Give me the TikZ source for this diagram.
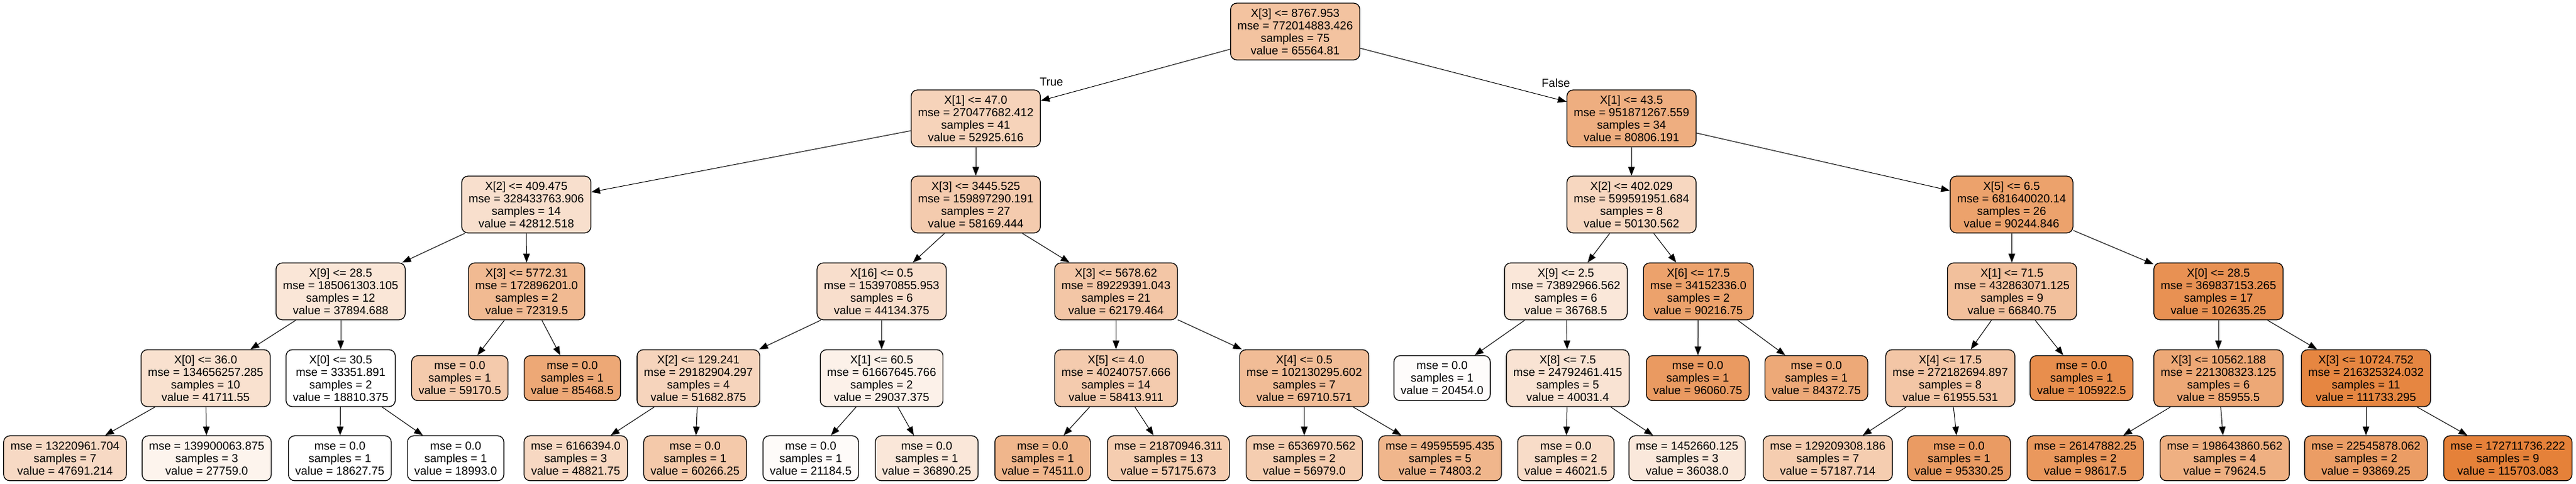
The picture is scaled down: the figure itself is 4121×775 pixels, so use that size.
\documentclass[tikz,border=0pt]{standalone}
\usepackage{fontspec}
\setmainfont{Liberation Sans}
\usetikzlibrary{arrows.meta}
\definecolor{skorange}{RGB}{229,129,57}

\begin{document}
\begin{tikzpicture}[x=1pt, y=-1pt,
		split/.style={draw, line width=1.3pt, rounded corners=10pt, fill=skorange!#1!white,
			align=center, inner xsep=11pt, inner ysep=3pt, minimum height=91pt,
			font=\fontsize{18.5pt}{20pt}\selectfont},
		leaf/.style={split=#1, minimum height=72pt},
		edge/.style={line width=1pt, -{Triangle[length=14pt,width=10.5pt]}},
		lbl/.style={font=\fontsize{18.5pt}{20pt}\selectfont}]
			\useasboundingbox (0,0) rectangle (4121,775);
			
			% depth 0 and 1
			\node[split=48] (root) at (2072,50.5){X[3] <= 8767.953\\mse = 772014883.426\\samples = 75\\value = 65564.81};
			\node[split=35] (l) at (1561,189.5){X[1] <= 47.0\\mse = 270477682.412\\samples = 41\\value = 52925.616};
			\node[split=64] (r) at (2610,189.5){X[1] <= 43.5\\mse = 951871267.559\\samples = 34\\value = 80806.191};
			\node[lbl] (T) at (1682,131){True};
			\node[lbl] (F) at (2489,133){False};
			
			% depth 2
			\node[split=25] (ll) at (842,327.5){X[2] <= 409.475\\mse = 328433763.906\\samples = 14\\value = 42812.518};
			\node[split=41] (lr) at (1561,327.5){X[3] <= 3445.525\\mse = 159897290.191\\samples = 27\\value = 58169.444};
			\node[split=32] (rl) at (2610,327.5){X[2] <= 402.029\\mse = 599591951.684\\samples = 8\\value = 50130.562};
			\node[split=74] (rr) at (3218,327.5){X[5] <= 6.5\\mse = 681640020.14\\samples = 26\\value = 90244.846};
			
			% depth 3
			\node[split=20] (lll) at (545,466.5){X[9] <= 28.5\\mse = 185061303.105\\samples = 12\\value = 37894.688};
			\node[split=55] (llr) at (842.5,466.5){X[3] <= 5772.31\\mse = 172896201.0\\samples = 2\\value = 72319.5};
			\node[split=26] (lrl) at (1410.4,466.5){X[16] <= 0.5\\mse = 153970855.953\\samples = 6\\value = 44134.375};
			\node[split=45] (lrr) at (1785.4,466.5){X[3] <= 5678.62\\mse = 89229391.043\\samples = 21\\value = 62179.464};
			\node[split=19] (rll) at (2505,466.5){X[9] <= 2.5\\mse = 73892966.562\\samples = 6\\value = 36768.5};
			\node[split=74] (rlr) at (2717,466.5){X[6] <= 17.5\\mse = 34152336.0\\samples = 2\\value = 90216.75};
			\node[split=50] (rrl) at (3218.7,466.5){X[1] <= 71.5\\mse = 432863071.125\\samples = 9\\value = 66840.75};
			\node[split=87] (rrr) at (3549,466.5){X[0] <= 28.5\\mse = 369837153.265\\samples = 17\\value = 102635.25};
			
			% depth 4
			\node[split=24] (llll) at (329,605.5){X[0] <= 36.0\\mse = 134656257.285\\samples = 10\\value = 41711.55};
			\node[split=0] (lllr) at (545,605.5){X[0] <= 30.5\\mse = 33351.891\\samples = 2\\value = 18810.375};
			\node[leaf=42] (llrl) at (735.6,605.5){mse = 0.0\\samples = 1\\value = 59170.5};
			\node[leaf=69] (llrr) at (915.5,605.5){mse = 0.0\\samples = 1\\value = 85468.5};
			\node[split=34] (lrll) at (1117.3,605.5){X[2] <= 129.241\\mse = 29182904.297\\samples = 4\\value = 51682.875};
			\node[split=11] (lrlr) at (1410.4,605.5){X[1] <= 60.5\\mse = 61667645.766\\samples = 2\\value = 29037.375};
			\node[split=41] (lrrl) at (1785.4,605.5){X[5] <= 4.0\\mse = 40240757.666\\samples = 14\\value = 58413.911};
			\node[split=53] (lrrr) at (2086.5,605.5){X[4] <= 0.5\\mse = 102130295.602\\samples = 7\\value = 69710.571};
			\node[leaf=2] (rlll) at (2307,605.5){mse = 0.0\\samples = 1\\value = 20454.0};
			\node[split=22] (rllr) at (2508,605.5){X[8] <= 7.5\\mse = 24792461.415\\samples = 5\\value = 40031.4};
			\node[leaf=80] (rlrl) at (2716,605.5){mse = 0.0\\samples = 1\\value = 96060.75};
			\node[leaf=68] (rlrr) at (2905.7,605.5){mse = 0.0\\samples = 1\\value = 84372.75};
			\node[split=45] (rrll) at (3120,605.5){X[4] <= 17.5\\mse = 272182694.897\\samples = 8\\value = 61955.531};
			\node[leaf=90] (rrlr) at (3330,605.5){mse = 0.0\\samples = 1\\value = 105922.5};
			\node[split=69] (rrrl) at (3549,605.5){X[3] <= 10562.188\\mse = 221308323.125\\samples = 6\\value = 85955.5};
			\node[split=96] (rrrr) at (3785,605.5){X[3] <= 10724.752\\mse = 216325324.032\\samples = 11\\value = 111733.295};
			
			% depth 5
			\node[leaf=30] (lllll) at (104,733.8){mse = 13220961.704\\samples = 7\\value = 47691.214};
			\node[leaf=9] (llllr) at (330.7,733.8){mse = 139900063.875\\samples = 3\\value = 27759.0};
			\node[leaf=0] (lllrl) at (543.7,733.8){mse = 0.0\\samples = 1\\value = 18627.75};
			\node[leaf=0] (lllrr) at (729,733.8){mse = 0.0\\samples = 1\\value = 18993.0};
			\node[leaf=31] (lrlll) at (921,733.8){mse = 6166394.0\\samples = 3\\value = 48821.75};
			\node[leaf=43] (lrllr) at (1112,733.8){mse = 0.0\\samples = 1\\value = 60266.25};
			\node[leaf=3] (lrlrl) at (1297,733.8){mse = 0.0\\samples = 1\\value = 21184.5};
			\node[leaf=19] (lrlrr) at (1482.5,733.8){mse = 0.0\\samples = 1\\value = 36890.25};
			\node[leaf=58] (lrrll) at (1668,733.8){mse = 0.0\\samples = 1\\value = 74511.0};
			\node[leaf=40] (lrrlr) at (1869.2,733.8){mse = 21870946.311\\samples = 13\\value = 57175.673};
			\node[leaf=40] (lrrrl) at (2086.5,733.8){mse = 6536970.562\\samples = 2\\value = 56979.0};
			\node[leaf=58] (lrrrr) at (2303.8,733.8){mse = 49595595.435\\samples = 5\\value = 74803.2};
			\node[leaf=28] (rllrl) at (2505,733.8){mse = 0.0\\samples = 2\\value = 46021.5};
			\node[leaf=18] (rllrr) at (2699,733.8){mse = 1452660.125\\samples = 3\\value = 36038.0};
			\node[leaf=40] (rrlll) at (2924,733.8){mse = 129209308.186\\samples = 7\\value = 57187.714};
			\node[leaf=79] (rrllr) at (3134,733.8){mse = 0.0\\samples = 1\\value = 95330.25};
			\node[leaf=82] (rrrll) at (3336,733.8){mse = 26147882.25\\samples = 2\\value = 98617.5};
			\node[leaf=63] (rrrlr) at (3559,733.8){mse = 198643860.562\\samples = 4\\value = 79624.5};
			\node[leaf=78] (rrrrl) at (3785,733.8){mse = 22545878.062\\samples = 2\\value = 93869.25};
			\node[leaf=100] (rrrrr) at (4012,733.8){mse = 172711736.222\\samples = 9\\value = 115703.083};
			
			\foreach \a/\b in {root/l, root/r, l/ll, l/lr, r/rl, r/rr,
				ll/lll, ll/llr, lr/lrl, lr/lrr, rl/rll, rl/rlr, rr/rrl, rr/rrr,
				lll/llll, lll/lllr, llr/llrl, llr/llrr, lrl/lrll, lrl/lrlr, lrr/lrrl, lrr/lrrr,
				rll/rlll, rll/rllr, rlr/rlrl, rlr/rlrr, rrl/rrll, rrl/rrlr, rrr/rrrl, rrr/rrrr,
				llll/lllll, llll/llllr, lllr/lllrl, lllr/lllrr, lrll/lrlll, lrll/lrllr,
				lrlr/lrlrl, lrlr/lrlrr, lrrl/lrrll, lrrl/lrrlr, lrrr/lrrrl, lrrr/lrrrr,
				rllr/rllrl, rllr/rllrr, rrll/rrlll, rrll/rrllr, rrrl/rrrll, rrrl/rrrlr,
				rrrr/rrrrl, rrrr/rrrrr}
				\draw[edge] (\a) -- (\b);
		\end{tikzpicture}
\end{document}
